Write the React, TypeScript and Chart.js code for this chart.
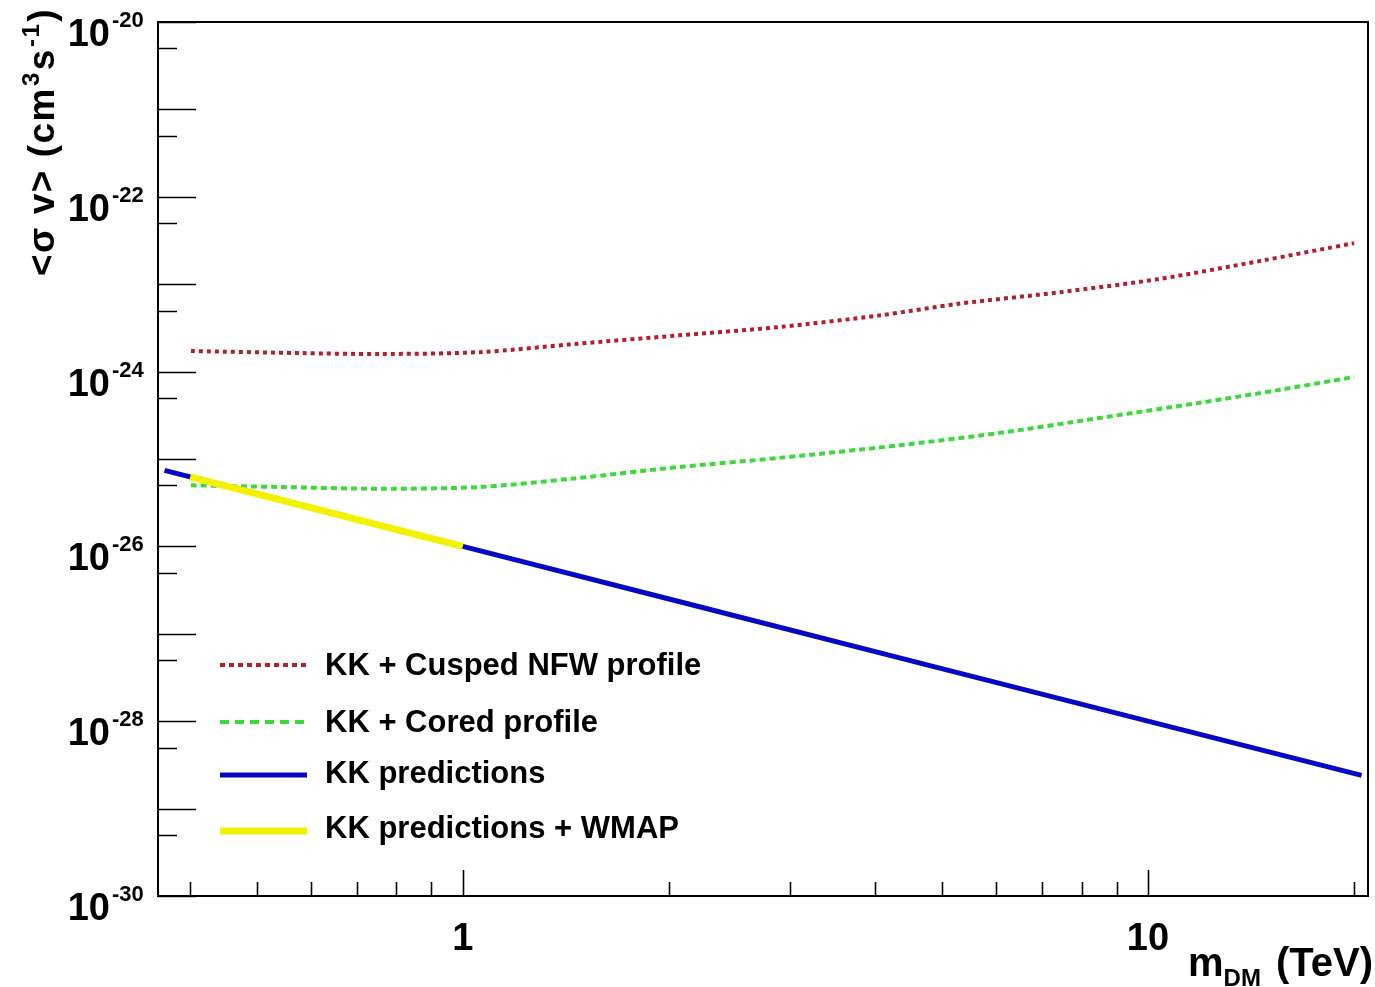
import { useEffect, useRef } from "react";
import { Chart, registerables } from "chart.js";

Chart.register(...registerables);

const FONT = '"Liberation Sans", Arial, Helvetica, sans-serif';

// Series values (m_DM in TeV, <sigma v> in cm^3 s^-1)
const cuspedMass = [0.401, 0.578, 0.757, 1.059, 1.457, 2.07, 2.9, 4.06, 5.32, 7.45, 10.4, 14.6, 20.0];
const cuspedSigma = [1.72e-24, 1.63e-24, 1.59e-24, 1.67e-24, 2.07e-24, 2.6e-24, 3.24e-24, 4.4e-24, 6.0e-24, 8.1e-24, 1.15e-23, 1.85e-23, 2.95e-23];

const coredMass = [0.401, 0.54, 0.757, 1.059, 1.457, 2.07, 2.9, 4.35, 6.08, 8.5, 11.9, 15.6, 20.0];
const coredSigma = [5.0e-26, 4.78e-26, 4.57e-26, 4.78e-26, 6.0e-26, 8.1e-26, 1.03e-25, 1.44e-25, 1.99e-25, 2.95e-25, 4.4e-25, 6.2e-25, 8.7e-25];

const kkMass = [0.367, 0.5, 0.7, 1.0, 2.0, 5.0, 10.0, 20.5];
const kkSigma = [7.4e-26, 4.0e-26, 2.04e-26, 1.0e-26, 2.5e-27, 4.0e-28, 1.0e-28, 2.4e-29];

const wmapMass = [0.4, 0.6, 0.8, 1.0];
const wmapSigma = [6.25e-26, 2.78e-26, 1.56e-26, 1.0e-26];

const legendLabels = ["KK + Cusped NFW profile", "KK + Cored profile", "KK predictions", "KK predictions + WMAP"];

// Axes
const xMin = 0.359;
const xMax = 20.95;
const yMin = 1e-30;
const yMax = 1e-20;
const xMajorTicks = [1, 10];
const xMajorLabels = ["1", "10"];
const xMinorTicks = [0.4, 0.5, 0.6, 0.7, 0.8, 0.9, 2, 3, 4, 5, 6, 7, 8, 9, 20];
const yMajorTicks = [1e-30, 1e-29, 1e-28, 1e-27, 1e-26, 1e-25, 1e-24, 1e-23, 1e-22, 1e-21, 1e-20];
const yMinorTicks = [5e-30, 5e-29, 5e-28, 5e-27, 5e-26, 5e-25, 5e-24, 5e-23, 5e-22, 5e-21];
const yLabelValues = [1e-30, 1e-28, 1e-26, 1e-24, 1e-22, 1e-20];
const yLabelExponents = ["-30", "-28", "-26", "-24", "-22", "-20"];

const toPts = (xs: number[], ys: number[]) => xs.map((x, i) => ({ x, y: ys[i] }));

const overlayPlugin = {
  id: "rootOverlay",
  afterDraw(chart: any) {
    const { ctx, chartArea: a, scales } = chart;
    const xs = scales.x;
    const ys = scales.y;
    ctx.save();
    ctx.setLineDash([]);
    ctx.strokeStyle = "#000";
    ctx.lineWidth = 2;
    ctx.strokeRect(a.left, a.top, a.right - a.left, a.bottom - a.top);

    ctx.lineWidth = 1.6;
    ctx.beginPath();
    yMajorTicks.forEach((v) => {
      const p = Math.round(ys.getPixelForValue(v)) + 0.5;
      ctx.moveTo(a.left, p);
      ctx.lineTo(a.left + 38, p);
    });
    yMinorTicks.forEach((v) => {
      const p = Math.round(ys.getPixelForValue(v)) + 0.5;
      ctx.moveTo(a.left, p);
      ctx.lineTo(a.left + 19, p);
    });
    xMajorTicks.forEach((v) => {
      const p = Math.round(xs.getPixelForValue(v)) + 0.5;
      ctx.moveTo(p, a.bottom);
      ctx.lineTo(p, a.bottom - 26);
    });
    xMinorTicks.forEach((v) => {
      const p = Math.round(xs.getPixelForValue(v)) + 0.5;
      ctx.moveTo(p, a.bottom);
      ctx.lineTo(p, a.bottom - 14);
    });
    ctx.stroke();

    // Y tick labels 10^n
    ctx.fillStyle = "#000";
    ctx.textBaseline = "alphabetic";
    yLabelValues.forEach((v, i) => {
      const p = ys.getPixelForValue(v);
      ctx.font = `bold 38px ${FONT}`;
      ctx.textAlign = "right";
      ctx.fillText("10", 110, p + 24);
      ctx.font = `bold 22px ${FONT}`;
      ctx.textAlign = "left";
      ctx.fillText(yLabelExponents[i], 112, p + 5);
    });

    // X tick labels
    ctx.font = `bold 38px ${FONT}`;
    ctx.textAlign = "center";
    xMajorTicks.forEach((v, i) => {
      ctx.fillText(xMajorLabels[i], xs.getPixelForValue(v), 950);
    });

    // X title m_DM (TeV)
    ctx.textAlign = "left";
    ctx.font = `bold 40px ${FONT}`;
    ctx.fillText("m", 1188, 976);
    const mw = ctx.measureText("m").width;
    ctx.font = `bold 24px ${FONT}`;
    ctx.fillText("DM", 1188 + mw, 986);
    ctx.font = `bold 40px ${FONT}`;
    ctx.textAlign = "right";
    ctx.fillText("(TeV)", 1373, 976);

    // Y title rotated
    ctx.save();
    ctx.translate(54, 276);
    ctx.rotate(-Math.PI / 2);
    ctx.textAlign = "left";
    const big = `bold 37px ${FONT}`;
    const small = `bold 24px ${FONT}`;
    const parts: [string, string, number][] = [
      ["<\u03C3 v> (cm", big, 0],
      ["3", small, -15],
      ["s", big, 0],
      ["-1", small, -15],
      [")", big, 0],
    ];
    let cx = 0;
    (ctx as any).letterSpacing = "1.5px";
    parts.forEach(([t, f, dy]) => {
      ctx.font = f;
      ctx.fillText(t, cx, dy);
      cx += ctx.measureText(t).width + 1;
    });
    (ctx as any).letterSpacing = "0px";
    ctx.restore();

    // Legend
    const rows = [665, 722, 775, 831];
    const baselines = [675, 732, 783, 838];
    const legendDash = [[5, 4], [9, 6], [], []];
    chart.data.datasets.forEach((ds: any, i: number) => {
      ctx.save();
      ctx.strokeStyle = ds.borderColor;
      ctx.lineWidth = ds.borderWidth;
      ctx.setLineDash(legendDash[i]);
      ctx.lineCap = "butt";
      ctx.beginPath();
      ctx.moveTo(220, rows[i]);
      ctx.lineTo(307, rows[i]);
      ctx.stroke();
      ctx.restore();
      ctx.font = `bold 31px ${FONT}`;
      ctx.textAlign = "left";
      ctx.fillStyle = "#000";
      ctx.fillText(ds.label, 325, baselines[i]);
    });
    ctx.restore();
  },
};

export default function App() {
  const ref = useRef<HTMLCanvasElement | null>(null);
  useEffect(() => {
    document.body.style.margin = "0";
    if (!ref.current) return;
    const chart = new Chart(ref.current, {
      type: "line",
      data: {
        datasets: [
          {
            label: legendLabels[0],
            data: toPts(cuspedMass, cuspedSigma),
            borderColor: "#b3202c",
            borderWidth: 4,
            borderDash: [4, 4],
            tension: 0.3,
            pointRadius: 0,
            fill: false,
            order: 3,
          },
          {
            label: legendLabels[1],
            data: toPts(coredMass, coredSigma),
            borderColor: "#3cd93c",
            borderWidth: 4,
            borderDash: [6, 4],
            tension: 0.3,
            pointRadius: 0,
            fill: false,
            order: 2,
          },
          {
            label: legendLabels[2],
            data: toPts(kkMass, kkSigma),
            borderColor: "#0808c4",
            borderWidth: 5,
            tension: 0,
            pointRadius: 0,
            fill: false,
            order: 1,
          },
          {
            label: legendLabels[3],
            data: toPts(wmapMass, wmapSigma),
            borderColor: "#f2f200",
            borderWidth: 7,
            tension: 0,
            pointRadius: 0,
            fill: false,
            order: 0,
          },
        ],
      },
      options: {
        responsive: false,
        animation: false,
        parsing: true,
        layout: { padding: { left: 158, top: 22, right: 7, bottom: 91 } },
        plugins: { legend: { display: false }, tooltip: { enabled: false } },
        scales: {
          x: { type: "logarithmic", min: xMin, max: xMax, display: false },
          y: { type: "logarithmic", min: yMin, max: yMax, display: false },
        },
      },
      plugins: [overlayPlugin],
    });
    return () => chart.destroy();
  }, []);
  return (
    <div style={{ width: 1375, height: 987, background: "#fff" }}>
      <canvas ref={ref} width={1375} height={987} style={{ display: "block" }} />
    </div>
  );
}
